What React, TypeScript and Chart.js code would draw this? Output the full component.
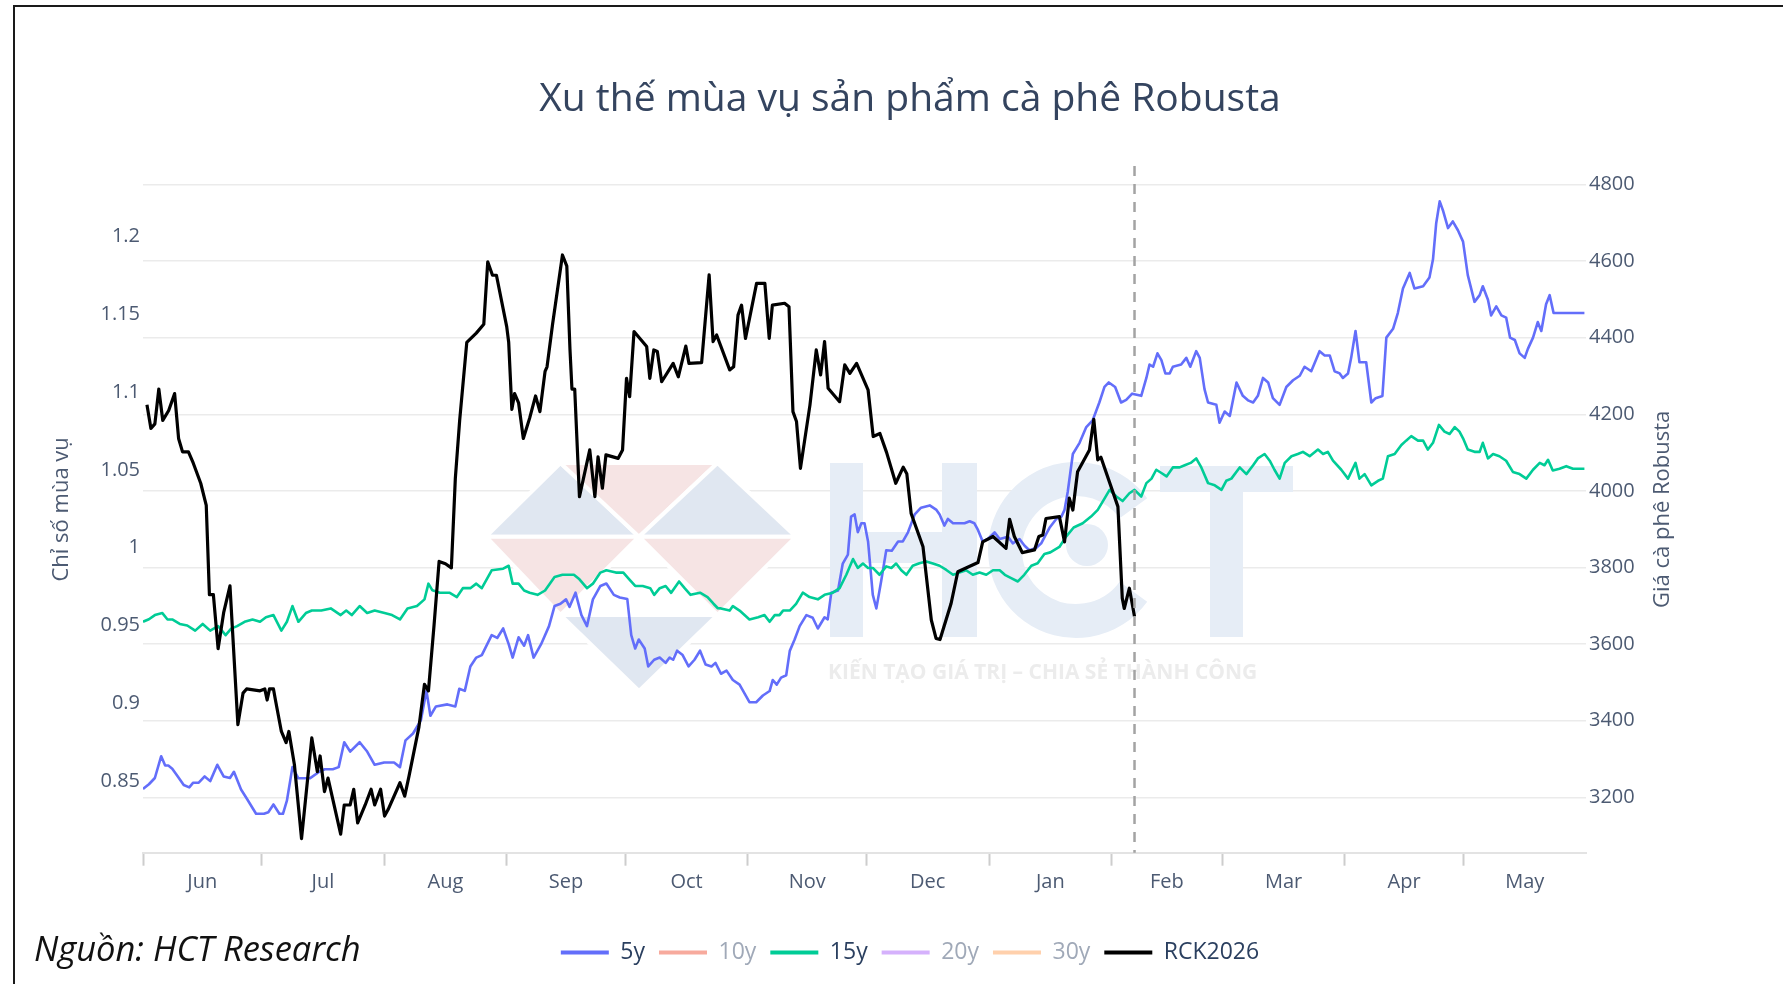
import React, { useEffect, useRef } from 'react';
import { Chart, registerables } from 'chart.js';

Chart.register(...registerables);

// x = day of the season (0 = 1 June, 365 = end of 31 May)
const monthLabels = ['Jun', 'Jul', 'Aug', 'Sep', 'Oct', 'Nov', 'Dec', 'Jan', 'Feb', 'Mar', 'Apr', 'May'];
const monthStartDays = [0, 30, 61, 92, 122, 153, 183, 214, 245, 273, 304, 334, 365];

const leftTickValues = [0.85, 0.9, 0.95, 1, 1.05, 1.1, 1.15, 1.2];
const rightTickValues = [3200, 3400, 3600, 3800, 4000, 4200, 4400, 4600, 4800];

const seriesNames = ['5y', '10y', '15y', '20y', '30y', 'RCK2026'];
const seriesColors = ['#636EFA', '#EF553B', '#00CC96', '#AB63FA', '#FFA15A', '#000000'];
const seriesFaded = ['#B1B6FC', '#F7AA9D', '#80E5CA', '#D5B1FC', '#FFD0AC', '#808080'];

// seasonal index, 5 years [day, index]
const series5y: [number, number][] = [
  [0, 0.845], [1.5, 0.848], [3, 0.852], [4.6, 0.866], [5.6, 0.86], [6.4, 0.86], [7.4, 0.858], [8.8, 0.853],
  [10.3, 0.8475], [11.7, 0.846], [12.7, 0.849], [14.1, 0.849], [15.6, 0.853], [17, 0.85], [18.8, 0.8605],
  [20.4, 0.853], [22, 0.852], [23, 0.856], [24.8, 0.8446], [26.2, 0.839], [28.6, 0.829], [30.6, 0.829],
  [31.7, 0.83], [33, 0.835], [34.5, 0.829], [35.4, 0.829], [36.4, 0.8374], [37.8, 0.859], [39.3, 0.8518],
  [42.2, 0.8518], [44.6, 0.856], [46, 0.8576], [48, 0.8576], [49.5, 0.859], [50.9, 0.875], [52.4, 0.869],
  [54.8, 0.875], [56.7, 0.869], [58.6, 0.8605], [61, 0.862], [63.5, 0.862], [65, 0.859], [66.4, 0.8762],
  [68.3, 0.8806], [70.3, 0.8892], [71.7, 0.908], [72.7, 0.892], [74.1, 0.898], [77, 0.8993], [79, 0.898],
  [80, 0.9093], [81.4, 0.908], [82.8, 0.9237], [84.3, 0.9294], [85.7, 0.931], [88.2, 0.9438], [89.6, 0.942],
  [91.1, 0.9481], [92.5, 0.938], [93.5, 0.9294], [95, 0.9424], [96.4, 0.937], [97.4, 0.9438], [98.8, 0.9294],
  [100.7, 0.938], [102.7, 0.9496], [104.1, 0.9625], [105.6, 0.964], [107, 0.9668], [107.9, 0.962],
  [109.4, 0.9711], [110.9, 0.9567], [112.3, 0.9496], [113.8, 0.9668], [115.7, 0.9754], [117.2, 0.977],
  [119.1, 0.9697], [120.6, 0.968], [122.5, 0.967], [123.5, 0.9438], [124.5, 0.9352], [125.4, 0.941],
  [126.9, 0.9352], [127.8, 0.9237], [129.3, 0.928], [130.7, 0.9294], [132.2, 0.926], [133.2, 0.9294],
  [134.1, 0.928], [135.1, 0.9338], [136.5, 0.931], [138, 0.9237], [139.5, 0.928], [140.9, 0.9338],
  [142.3, 0.925], [143.8, 0.9237], [144.8, 0.926], [146.2, 0.919], [147.6, 0.921], [149.2, 0.915],
  [150.9, 0.912], [153.4, 0.9007], [155.1, 0.9007], [156.8, 0.905], [158.5, 0.9079], [159.3, 0.915],
  [160.3, 0.912], [161.4, 0.9165], [162.7, 0.918], [163.6, 0.9337], [164.8, 0.9409], [166.1, 0.9496],
  [167.8, 0.9567], [169.4, 0.955], [170.7, 0.9481], [172.4, 0.9553], [173.2, 0.954], [174.1, 0.9711],
  [175.8, 0.9725], [177, 0.9898], [178.3, 0.9955], [179.1, 1.02], [180, 1.0214], [180.8, 1.01],
  [181.7, 1.0157], [182.5, 1.0157], [183.4, 1.004], [184.6, 0.9697], [185.5, 0.961], [186.7, 0.9783],
  [188, 0.9984], [189.4, 0.998], [191, 1.004], [192.2, 1.004], [193.5, 1.0099], [195.2, 1.0214],
  [196.8, 1.0257], [199, 1.0272], [200.7, 1.0243], [201.5, 1.0214], [202.7, 1.0142], [203.6, 1.0185],
  [204.9, 1.0157], [207.8, 1.0157], [209.1, 1.017], [210.3, 1.0157], [211.2, 1.0114], [212.4, 1.004],
  [213.7, 1.0056], [215.4, 1.0099], [216.7, 1.0056], [218.8, 1.0071], [220, 1.0028], [221.7, 1.0056],
  [223, 1.0013], [224.2, 0.9984], [225.9, 0.9998], [227.2, 1.0028], [228.4, 1.0085], [229.3, 1.0128],
  [231, 1.0185], [232.3, 1.02], [233.1, 1.0243], [233.9, 1.0358], [235.2, 1.0602], [236.9, 1.0674],
  [238.6, 1.0775], [240.2, 1.0818], [241.9, 1.0933], [243.2, 1.1033], [244.3, 1.1062], [245.9, 1.1033],
  [247.4, 1.0933], [248.7, 1.095], [250.2, 1.099], [252.5, 1.0976], [253.8, 1.1091], [254.6, 1.1177],
  [255.5, 1.1163], [256.6, 1.1249], [257.6, 1.1206], [258.6, 1.112], [259.7, 1.112], [260.5, 1.1163],
  [262.6, 1.1177], [263.9, 1.122], [264.9, 1.1163], [266.4, 1.1263], [267.3, 1.122], [268.5, 1.1019],
  [269.4, 1.0933], [271.5, 1.0918], [272.3, 1.0803], [273.6, 1.0875], [274.9, 1.0847], [276.6, 1.1062],
  [278.2, 1.0976], [279.5, 1.0947], [280.8, 1.0933], [282, 1.0976], [283.3, 1.1091], [284.6, 1.1062],
  [285.8, 1.0961], [287.5, 1.0918], [289.2, 1.1033], [290.9, 1.1076], [292.6, 1.1105], [293.8, 1.1163],
  [295.5, 1.1134], [297.6, 1.1263], [298.9, 1.1235], [300.2, 1.1235], [301.4, 1.1134], [302.7, 1.112],
  [303.5, 1.1091], [304.8, 1.112], [305.6, 1.122], [306.7, 1.1393], [307.7, 1.1192], [309.4, 1.1192],
  [310.7, 1.0933], [311.8, 1.0961], [313.5, 1.0975], [314.5, 1.135], [316.2, 1.1407], [317.4, 1.1508],
  [318.7, 1.1666], [320.4, 1.1766], [321.6, 1.1666], [323.8, 1.168], [325.4, 1.1737], [326.3, 1.1853],
  [327.1, 1.2083], [328, 1.2226], [328.8, 1.2169], [330.1, 1.2054], [331.3, 1.2097], [332.6, 1.204],
  [333.9, 1.1967], [335.1, 1.1752], [336.8, 1.158], [338.1, 1.1623], [338.9, 1.168], [340.2, 1.1594],
  [341, 1.1493], [342.3, 1.1551], [343.6, 1.1493], [344.8, 1.1479], [345.8, 1.135], [347, 1.1335],
  [348.2, 1.1249], [349.5, 1.122], [350.3, 1.1278], [351.6, 1.135], [352.8, 1.145], [353.7, 1.1393],
  [354.9, 1.1565], [355.8, 1.1623], [356.8, 1.1508], [364.6, 1.1508],
];

// seasonal index, 15 years [day, index]
const series15y: [number, number][] = [
  [0, 0.9524], [1.5, 0.954], [3, 0.9567], [4.9, 0.958], [6.2, 0.9539], [7.4, 0.9539], [9.3, 0.951],
  [11.2, 0.95], [13.2, 0.9467], [15.1, 0.951], [17, 0.9467], [19, 0.9496], [20.9, 0.9438], [22.3, 0.948],
  [23.8, 0.9496], [25.7, 0.9524], [27.7, 0.9539], [29.6, 0.9524], [31.1, 0.9553], [33, 0.9567], [35, 0.9467],
  [36.4, 0.9524], [37.8, 0.9625], [39.3, 0.9524], [41.2, 0.958], [42.7, 0.9596], [45.1, 0.9596], [47.5, 0.961],
  [50, 0.9567], [51.4, 0.9596], [52.8, 0.9567], [54.8, 0.9625], [56.7, 0.958], [58.6, 0.9596], [61.1, 0.958],
  [63, 0.9567], [65, 0.9539], [66.9, 0.961], [69.3, 0.9625], [71.2, 0.9668], [72.2, 0.9769], [73.2, 0.9726],
  [75.1, 0.9711], [77.5, 0.9711], [79.4, 0.9683], [80.9, 0.974], [82.8, 0.974], [84.3, 0.9769], [85.7, 0.974],
  [88.2, 0.9855], [91.1, 0.9865], [92.5, 0.9884], [93.5, 0.9769], [95, 0.9769], [96.4, 0.9725], [97.8, 0.9711],
  [99.8, 0.9697], [101.7, 0.9725], [104.1, 0.9812], [106.1, 0.9826], [109, 0.9826], [110.4, 0.9797],
  [112.3, 0.974], [113.8, 0.9769], [115.7, 0.984], [117.2, 0.9855], [119.6, 0.984], [121.5, 0.984],
  [123, 0.9797], [124.5, 0.9754], [126.4, 0.9754], [128.3, 0.974], [129.3, 0.9697], [130.7, 0.974],
  [132.2, 0.9754], [133.6, 0.971], [135.6, 0.9783], [137, 0.974], [138.5, 0.9697], [140.9, 0.9711],
  [142.8, 0.9683], [144.3, 0.964], [145.4, 0.9611], [146.2, 0.961], [148.4, 0.9596], [149.2, 0.9625],
  [150.9, 0.9596], [153.4, 0.9539], [155.6, 0.9553], [157.2, 0.9567], [158.5, 0.9524], [159.8, 0.9567],
  [161, 0.9567], [161.9, 0.9596], [163.6, 0.9596], [165.2, 0.9639], [166.9, 0.9711], [168.6, 0.9683],
  [170.7, 0.9668], [172.4, 0.9697], [174.5, 0.9711], [176.2, 0.974], [177.9, 0.9826], [179.6, 0.9927],
  [180.8, 0.987], [182.1, 0.9898], [183.4, 0.987], [184.6, 0.987], [186.3, 0.9826], [188, 0.988],
  [189.3, 0.987], [190.5, 0.9898], [191.8, 0.9855], [193.1, 0.9826], [194.7, 0.9884], [196.4, 0.99],
  [198.1, 0.9912], [199.8, 0.9898], [201.5, 0.9884], [203.2, 0.9857], [204.9, 0.9826], [206.5, 0.984],
  [208.2, 0.9855], [209.9, 0.9826], [211.6, 0.984], [213.3, 0.9826], [215, 0.9855], [216.7, 0.9855],
  [218, 0.9826], [219.6, 0.9805], [221.3, 0.9783], [222.9, 0.9826], [224.7, 0.9884], [226.3, 0.99],
  [228, 0.996], [229.5, 0.997], [231.8, 1.0005], [233.5, 1.0071], [235.4, 1.013], [237.7, 1.0157],
  [239.8, 1.02], [241.5, 1.0243], [243.2, 1.0315], [244.5, 1.0372], [246.2, 1.0329], [247.8, 1.03],
  [249.5, 1.035], [250.8, 1.0372], [252.5, 1.0329], [253.8, 1.0415], [255.1, 1.0444], [256.3, 1.0501],
  [257.6, 1.048], [258.9, 1.0458], [260.5, 1.0516], [262.2, 1.0516], [263.5, 1.053], [265, 1.0545],
  [266.4, 1.0574], [267.7, 1.0516], [269.4, 1.0415], [271.1, 1.0401], [272.8, 1.0372], [274, 1.043],
  [275.3, 1.0444], [277.4, 1.0516], [279.1, 1.0473], [280.8, 1.053], [282, 1.0574], [283.7, 1.0602],
  [285, 1.0559], [286.2, 1.0501], [287.5, 1.0444], [288.8, 1.0545], [290.5, 1.0588], [292.1, 1.0602],
  [293.4, 1.0616], [295.1, 1.0588], [297.2, 1.0631], [298.5, 1.0602], [299.7, 1.0616], [301, 1.0559],
  [303.1, 1.0501], [304.8, 1.0444], [306.7, 1.0545], [307.7, 1.0444], [309, 1.0473], [310.7, 1.0401],
  [312.4, 1.043], [313.6, 1.0444], [314.9, 1.0588], [316.6, 1.0602], [318.3, 1.066], [319.5, 1.0688],
  [320.8, 1.0717], [322.5, 1.0688], [323.8, 1.0688], [325, 1.0631], [326.3, 1.0674], [327.8, 1.0789],
  [329.2, 1.0746], [330.5, 1.0731], [331.8, 1.0775], [333, 1.0746], [333.9, 1.0703], [335.1, 1.0631],
  [336.8, 1.0616], [338.1, 1.0616], [338.9, 1.0674], [340.2, 1.0574], [341.5, 1.0602], [343.1, 1.0588],
  [344.8, 1.0559], [346.5, 1.0487], [348.2, 1.0473], [349.9, 1.0444], [351.6, 1.0501], [353.3, 1.0545],
  [354.5, 1.053], [355.4, 1.0565], [356.6, 1.0496], [358.3, 1.0507], [360, 1.0524], [361.7, 1.0507],
  [364.6, 1.0507],
];

// Robusta price RCK2026 [day, price]
const seriesRCK: [number, number][] = [
  [1, 4225], [2, 4163], [3, 4175], [4, 4266], [5, 4184], [6.5, 4210], [8, 4254], [9, 4137], [10, 4102],
  [11.5, 4102], [12.7, 4073], [14.6, 4020], [16, 3962], [16.8, 3729], [17.8, 3729], [19, 3588], [20.4, 3682],
  [22, 3752], [24, 3390], [25.3, 3472], [26.2, 3483], [29.6, 3478], [30.8, 3483], [31.4, 3454], [32, 3483],
  [33, 3483], [33.5, 3454], [35, 3372], [36.2, 3343], [36.9, 3372], [38.3, 3285], [40.1, 3092], [42.7, 3355],
  [44.1, 3267], [44.8, 3308], [45.9, 3215], [46.8, 3250], [50, 3104], [50.9, 3180], [52.4, 3180], [53.3, 3221],
  [54.3, 3133], [56.2, 3180], [57.7, 3221], [58.6, 3180], [60.1, 3221], [61.1, 3151], [62, 3168], [65, 3238],
  [66.2, 3203], [67.3, 3256], [69.8, 3384], [71.2, 3495], [72.2, 3478], [73.6, 3647], [74.9, 3816],
  [76.5, 3810], [78, 3799], [79, 4032], [80.1, 4184], [81.9, 4388], [84.3, 4412], [86.2, 4435], [87.2, 4598],
  [88.4, 4563], [89.4, 4563], [92, 4429], [92.5, 4388], [93.3, 4213], [94, 4254], [95, 4230], [96.2, 4137],
  [97.8, 4190], [99.3, 4248], [100.4, 4207], [101.7, 4312], [102.2, 4324], [103.6, 4435], [106.1, 4616],
  [107.2, 4587], [108, 4370], [108.5, 4266], [109.2, 4266], [110.4, 3985], [113, 4107], [114.3, 3985],
  [115.1, 4089], [116.2, 4007], [117.1, 4094], [120.2, 4085], [121.3, 4107], [122.3, 4294], [123.1, 4246],
  [124.2, 4416], [127.4, 4377], [128.2, 4294], [129.2, 4368], [130.1, 4364], [131.2, 4285], [134.1, 4333],
  [135.4, 4298], [137.3, 4378], [138.1, 4333], [141.3, 4335], [143.2, 4564], [144.2, 4390], [145.1, 4407],
  [148.4, 4316], [149.4, 4324], [150.5, 4459], [151.4, 4485], [152.4, 4398], [155.2, 4542], [157.3, 4542],
  [158.4, 4398], [159.2, 4485], [162.3, 4490], [163.4, 4481], [164.4, 4207], [165.3, 4181], [166.3, 4059],
  [168.7, 4224], [170.3, 4368], [171.4, 4303], [172.4, 4390], [173.3, 4268], [176.2, 4233], [177.5, 4329],
  [178.8, 4307], [180.5, 4333], [183.4, 4264], [184.7, 4142], [186.4, 4150], [188.1, 4100], [190.4, 4020],
  [192.3, 4062], [193.2, 4045], [194.3, 3941], [197.3, 3854], [199.4, 3663], [200.6, 3615], [201.6, 3612],
  [204.4, 3706], [206.1, 3789], [211.2, 3813], [212.4, 3867], [215, 3881], [218.3, 3850], [219.2, 3926],
  [220.4, 3881], [222.4, 3839], [225.5, 3846], [226.6, 3881], [227.6, 3885], [228.4, 3928], [231.8, 3933],
  [233.1, 3867], [234.3, 3981], [235.2, 3950], [236.4, 4050], [239.4, 4107], [240.5, 4187], [241.5, 4081],
  [242.3, 4088], [246.6, 3959], [247.7, 3720], [248.2, 3693], [249.5, 3746], [250.8, 3672],
];

const FONT = '"Open Sans", "Noto Sans", sans-serif';
const TEXT_COLOR = '#2a3f5f';
const TICK_COLOR = '#4c5a72';

const toXY = (arr: [number, number][]) => arr.map(([x, y]) => ({ x, y }));

const watermarkPlugin = {
  id: 'hctWatermark',
  beforeDatasetsDraw(chart: any) {
    const ctx = chart.ctx as CanvasRenderingContext2D;
    ctx.save();
    const a = 486, b = 560.5, c = 639, d = 717.5, e = 796;
    const y0 = 463, y1 = 536.7, y2 = 615, y3 = 691;
    const blue = '#e0e7f1';
    const pink = '#f6e4e4';
    const tri = (pts: number[][], color: string) => {
      ctx.beginPath();
      ctx.moveTo(pts[0][0], pts[0][1]);
      ctx.lineTo(pts[1][0], pts[1][1]);
      ctx.lineTo(pts[2][0], pts[2][1]);
      ctx.closePath();
      ctx.fillStyle = color;
      ctx.fill();
      ctx.strokeStyle = '#ffffff';
      ctx.lineWidth = 4;
      ctx.stroke();
    };
    tri([[b, y0], [a, y1], [c, y1]], blue);
    tri([[b, y0], [d, y0], [c, y1]], pink);
    tri([[d, y0], [c, y1], [e, y1]], blue);
    tri([[a, y1], [c, y1], [b, y2]], pink);
    tri([[c, y1], [e, y1], [d, y2]], pink);
    tri([[b, y2], [d, y2], [c, y3]], blue);

    const letter = '#e6edf6';
    ctx.fillStyle = letter;
    ctx.fillRect(830, 463, 33, 174);
    ctx.fillRect(942, 463, 35, 174);
    ctx.fillRect(862, 532, 81, 31);
    ctx.beginPath();
    ctx.strokeStyle = letter;
    ctx.lineWidth = 34;
    ctx.arc(1076, 550, 71, 0.2 * Math.PI, 1.8 * Math.PI);
    ctx.stroke();
    ctx.beginPath();
    ctx.arc(1087, 545, 21, 0, 2 * Math.PI);
    ctx.fill();
    ctx.fillRect(1160, 466, 133, 26);
    ctx.fillRect(1210, 466, 33, 171);

    ctx.font = `bold 21px ${FONT}`;
    ctx.fillStyle = '#ececec';
    ctx.textBaseline = 'middle';
    ctx.textAlign = 'left';
    ctx.fillText('KIẾN TẠO GIÁ TRỊ – CHIA SẺ THÀNH CÔNG', 828, 673, 466);
    ctx.restore();
  },
};

const todayLinePlugin = {
  id: 'todayLine',
  afterDatasetsDraw(chart: any) {
    const ctx = chart.ctx as CanvasRenderingContext2D;
    const { top, bottom } = chart.chartArea;
    const lastDay = seriesRCK[seriesRCK.length - 1][0];
    const x = chart.scales.x.getPixelForValue(lastDay);
    ctx.save();
    ctx.strokeStyle = '#a3a3a3';
    ctx.lineWidth = 2.5;
    ctx.setLineDash([10, 8]);
    ctx.beginPath();
    ctx.moveTo(x, top);
    ctx.lineTo(x, bottom);
    ctx.stroke();
    ctx.restore();
  },
};

const rightTitlePlugin = {
  id: 'rightTitle',
  afterDraw(chart: any) {
    const ctx = chart.ctx as CanvasRenderingContext2D;
    const { top, bottom } = chart.chartArea;
    const s = chart.scales.y2;
    ctx.save();
    ctx.translate(s.left + 77, (top + bottom) / 2);
    ctx.rotate(-Math.PI / 2);
    ctx.font = `22px ${FONT}`;
    ctx.fillStyle = TICK_COLOR;
    ctx.textAlign = 'center';
    ctx.textBaseline = 'middle';
    ctx.fillText('Giá cà phê Robusta', 0, 0);
    ctx.restore();
  },
};

export default function App() {
  const canvasRef = useRef<HTMLCanvasElement | null>(null);

  useEffect(() => {
    if (!canvasRef.current) return;
    Chart.defaults.font.family = FONT;

    const midDays = monthLabels.map((_, i) => (monthStartDays[i] + monthStartDays[i + 1]) / 2);
    const labelAt = new Map<number, string>();
    midDays.forEach((d, i) => labelAt.set(d, monthLabels[i]));
    const boundaryTicks = monthStartDays.slice(0, 12);
    const boundarySet = new Set(boundaryTicks);

    const dataFor: Record<string, [number, number][]> = { '5y': series5y, '15y': series15y, RCK2026: seriesRCK };
    const drawOrder: Record<string, number> = { '5y': 6, '10y': 5, '15y': 4, '20y': 3, '30y': 2, RCK2026: 1 };

    const datasets = seriesNames.map((name, i) => ({
      label: name,
      data: dataFor[name] ? toXY(dataFor[name]) : [],
      hidden: !dataFor[name],
      yAxisID: name === 'RCK2026' ? 'y2' : 'y',
      borderColor: seriesColors[i],
      backgroundColor: seriesColors[i],
      borderWidth: name === 'RCK2026' ? 3.2 : 2.6,
      pointRadius: 0,
      tension: 0,
      borderJoinStyle: 'round' as const,
      order: drawOrder[name],
    }));

    const chart = new Chart(canvasRef.current, {
      type: 'line',
      data: { datasets },
      plugins: [watermarkPlugin, todayLinePlugin, rightTitlePlugin],
      options: {
        responsive: false,
        animation: false,
        events: [],
        layout: { padding: { left: 40, right: 35, top: 0, bottom: 10 } },
        plugins: {
          title: {
            display: true,
            text: 'Xu thế mùa vụ sản phẩm cà phê Robusta',
            color: '#34445f',
            font: { size: 39, weight: 'normal', lineHeight: 1.2 },
            padding: { top: 76.6, bottom: 42.6 },
          },
          legend: {
            position: 'bottom',
            labels: {
              boxWidth: 48,
              boxHeight: 4,
              padding: 14,
              font: { size: 23 },
              color: TEXT_COLOR,
              generateLabels: (ch: any) =>
                ch.data.datasets.map((ds: any, i: number) => {
                  const faded = ds.hidden === true;
                  const col = faded ? seriesFaded[i] : seriesColors[i];
                  return {
                    text: ds.label,
                    fillStyle: col,
                    strokeStyle: col,
                    lineWidth: 0,
                    hidden: false,
                    fontColor: faded ? '#a0a9b8' : TEXT_COLOR,
                    datasetIndex: i,
                  };
                }),
            },
          },
          tooltip: { enabled: false },
        },
        scales: {
          x: {
            type: 'linear',
            min: 0,
            max: 365,
            afterBuildTicks: (scale: any) => {
              const vals = [...boundaryTicks, ...midDays].sort((p, q) => p - q);
              scale.ticks = vals.map((v) => ({ value: v }));
            },
            afterFit: (scale: any) => {
              scale.height = 74.3;
            },
            grid: {
              display: true,
              drawOnChartArea: false,
              drawTicks: true,
              tickLength: 13,
              tickWidth: 2,
              tickColor: (c: any) => (c.tick && boundarySet.has(c.tick.value) ? '#cdcdcd' : 'rgba(0,0,0,0)'),
            },
            border: { display: true, color: '#e3e3e3', width: 2 },
            ticks: {
              autoSkip: false,
              maxRotation: 0,
              minRotation: 0,
              padding: 5,
              color: TICK_COLOR,
              font: { size: 20 },
              callback: (v: any) => labelAt.get(Number(v)) ?? '',
            },
          },
          y: {
            type: 'linear',
            position: 'left',
            min: 0.804,
            max: 1.2453,
            afterBuildTicks: (scale: any) => {
              scale.ticks = leftTickValues.map((v) => ({ value: v }));
            },
            afterFit: (scale: any) => {
              scale.width = 103;
            },
            grid: { display: false, drawTicks: false },
            border: { display: false },
            ticks: {
              padding: 3,
              color: TICK_COLOR,
              font: { size: 20 },
              callback: (v: any) => String(Number(Number(v).toFixed(2))),
            },
            title: {
              display: true,
              text: 'Chỉ số mùa vụ',
              color: TICK_COLOR,
              font: { size: 22, lineHeight: 1.2 },
              padding: { top: 9, bottom: 0 },
            },
          },
          y2: {
            type: 'linear',
            position: 'right',
            min: 3055.4,
            max: 4848.3,
            afterBuildTicks: (scale: any) => {
              scale.ticks = rightTickValues.map((v) => ({ value: v }));
            },
            afterFit: (scale: any) => {
              scale.width = 194;
            },
            grid: { display: true, drawOnChartArea: true, drawTicks: false, color: '#ebebeb', lineWidth: 1.6 },
            border: { display: false },
            ticks: {
              padding: 3,
              color: TICK_COLOR,
              font: { size: 20 },
              callback: (v: any) => String(v),
            },
          },
        },
      } as any,
    });

    return () => {
      chart.destroy();
    };
  }, []);

  return (
    <div
      style={{
        position: 'fixed',
        left: 0,
        top: 0,
        width: 1783,
        height: 984,
        overflow: 'hidden',
        background: '#ffffff',
      }}
    >
      <div
        style={{
          position: 'absolute',
          left: 13,
          top: 5,
          width: 1800,
          height: 1000,
          borderTop: '2px solid #1a1a1a',
          borderLeft: '2px solid #1a1a1a',
        }}
      />
      <canvas
        ref={canvasRef}
        width={1815}
        height={984}
        style={{ position: 'absolute', left: 0, top: 0, width: 1815, height: 984 }}
      />
      <div
        style={{
          position: 'absolute',
          left: 34,
          top: 926,
          height: 44,
          lineHeight: '44px',
          fontFamily: FONT,
          fontStyle: 'italic',
          fontSize: 34.5,
          color: '#111111',
          whiteSpace: 'nowrap',
        }}
      >
        Nguồn: HCT Research
      </div>
    </div>
  );
}
